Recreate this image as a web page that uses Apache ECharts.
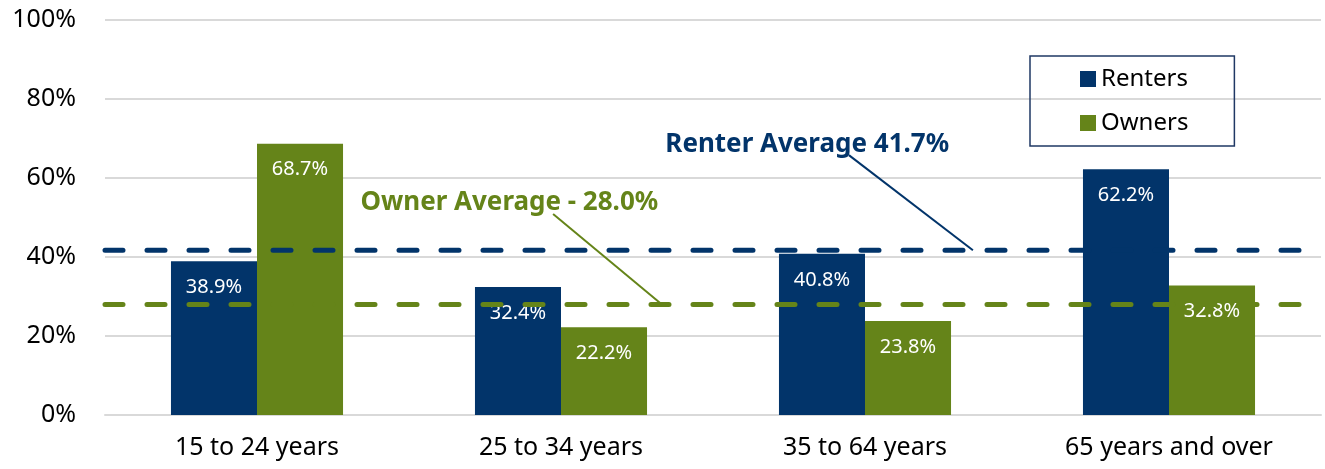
<!DOCTYPE html>
<html>
<head>
<meta charset="utf-8">
<script src="https://cdn.jsdelivr.net/npm/echarts@6/dist/echarts.min.js"></script>
<style>
  html, body { margin: 0; padding: 0; background: #fff; }
  #chart { width: 1325px; height: 469px; }
</style>
</head>
<body>
<div id="chart"></div>
<script>
// data
const categories = ["15 to 24 years", "25 to 34 years", "35 to 64 years", "65 years and over"];
const renters = [38.9, 32.4, 40.8, 62.2];
const owners = [68.7, 22.2, 23.8, 32.8];
const renterAvg = 41.7;
const ownerAvg = 28.0;
const yTicks = [0, 20, 40, 60, 80, 100];

// callouts: text position and leader line, in (category units, percent)
const renterNote = { text: "Renter Average 41.7%", at: [2.31, 68.4], line: [[2.447, 65.8], [2.855, renterAvg]] };
const ownerNote = { text: "Owner Average - 28.0%", at: [1.33, 53.9], line: [[1.474, 50.9], [1.832, ownerAvg]] };
const avgLineEnd = 3.93;

const NAVY = "#02346a";
const GREEN = "#658419";
const FONT = "Noto Sans";

const chart = echarts.init(document.getElementById("chart"));

const option = {
  animation: false,
  textStyle: { fontFamily: FONT },
  grid: { left: 105, right: 4, top: 20, bottom: 54 },
  legend: {
    data: ["Renters", "Owners"],
    orient: "vertical",
    left: 1030,
    top: 56,
    icon: "rect",
    itemWidth: 16,
    itemHeight: 16,
    itemGap: 20,
    padding: [11, 46, 11, 50],
    borderColor: "#1f3864",
    borderWidth: 1.5,
    textStyle: { fontSize: 24, color: "#000", fontFamily: FONT, lineHeight: 24 }
  },
  xAxis: [
    {
      type: "category",
      data: categories,
      axisTick: { show: false },
      axisLine: { lineStyle: { color: "#d9d9d9", width: 2 } },
      axisLabel: { fontSize: 25, color: "#000", margin: 20 }
    },
    { type: "value", min: 0, max: 4, show: false }
  ],
  yAxis: {
    type: "value",
    min: 0,
    max: 100,
    interval: 20,
    axisLabel: {
      fontSize: 25, color: "#000", margin: 29,
      formatter: v => yTicks.includes(v) ? v + "%" : ""
    },
    axisLine: { show: false },
    axisTick: { show: false },
    splitLine: { lineStyle: { color: "#d9d9d9", width: 2 } }
  },
  series: [
    {
      name: "Renters", type: "bar", data: renters,
      barGap: "0%", barCategoryGap: "43.4%", z: 2,
      itemStyle: { color: NAVY },
      label: { show: true, position: "insideTop", distance: 16, color: "#fff", fontSize: 20, formatter: p => p.value.toFixed(1) + "%" }
    },
    {
      name: "Owners", type: "bar", data: owners,
      barGap: "0%", barCategoryGap: "43.4%", z: 2,
      itemStyle: { color: GREEN },
      label: { show: true, position: "insideTop", distance: 16, color: "#fff", fontSize: 20, formatter: p => p.value.toFixed(1) + "%" }
    },
    {
      name: "renterAvg", type: "line", xAxisIndex: 1, z: 5, symbol: "none", silent: true,
      data: [[0, renterAvg], [avgLineEnd, renterAvg]],
      lineStyle: { color: NAVY, width: 5, type: [18, 24], cap: "round" }
    },
    {
      name: "ownerAvg", type: "line", xAxisIndex: 1, z: 5, symbol: "none", silent: true,
      data: [[0, ownerAvg], [avgLineEnd, ownerAvg]],
      lineStyle: { color: GREEN, width: 5, type: [18, 24], cap: "round" }
    },
    {
      name: "renterLeader", type: "line", xAxisIndex: 1, z: 6, symbol: "none", silent: true,
      data: renterNote.line, lineStyle: { color: NAVY, width: 2 }
    },
    {
      name: "ownerLeader", type: "line", xAxisIndex: 1, z: 6, symbol: "none", silent: true,
      data: ownerNote.line, lineStyle: { color: GREEN, width: 2 }
    },
    {
      name: "notes", type: "scatter", xAxisIndex: 1, z: 7, symbolSize: 0, silent: true,
      itemStyle: { opacity: 1 },
      data: [
        { value: renterNote.at, name: renterNote.text, label: { color: NAVY } },
        { value: ownerNote.at, name: ownerNote.text, label: { color: GREEN } }
      ],
      label: {
        show: true, position: "inside", fontSize: 26, fontWeight: "bold", opacity: 1,
        formatter: p => p.name
      }
    }
  ]
};

chart.setOption(option);
</script>
</body>
</html>
